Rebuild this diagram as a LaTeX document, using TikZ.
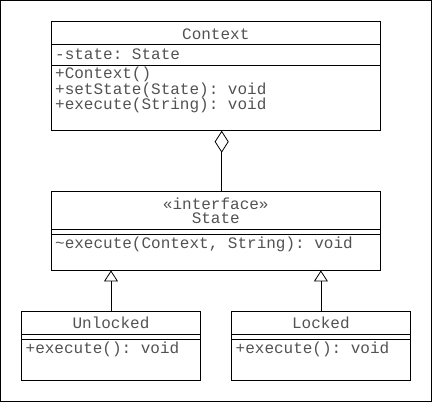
\documentclass[tikz,border=0pt]{standalone}
\usepackage{fontspec}
\setmonofont{Liberation Mono}
\usetikzlibrary{shapes,arrows.meta}
\tikzstyle{cls}=[draw, rectangle, inner sep=0pt, line width=0.8pt]
\tikzstyle{txt}=[font=\ttfamily\fontsize{16}{16}\selectfont, text=black!68, inner sep=0pt]
\tikzstyle{mem}=[txt, anchor=base west]
\tikzstyle{ttl}=[txt, anchor=base]
\tikzstyle{agg}=[line width=0.8pt, -{Diamond[open, length=22pt, width=14pt, line width=0.8pt]}]
\tikzstyle{impl}=[line width=0.8pt, -{Triangle[open, length=11pt, width=14pt, line width=0.8pt]}]

\begin{document}
\begin{tikzpicture}[x=1pt, y=-1pt]
\useasboundingbox (0,0) rectangle (432,402);
\draw[line width=1pt] (0.5,0.5) rectangle (431.5,401.5);

% Context
\node[cls, minimum width=329pt, minimum height=108.8pt] (ctx) at (215.8,75.9) {};
\draw (ctx.west |- 0,44.3) -- (ctx.east |- 0,44.3);
\draw (ctx.west |- 0,64.7) -- (ctx.east |- 0,64.7);
\draw (215.8,39.5) node [ttl] (ctxname) {Context};
\draw (55,59.3) node [mem] (ctxattr) {-state: State};
\draw (55,78.5) node [mem] (ctxop1) {+Context()};
\draw (55,94.3) node [mem] (ctxop2) {+setState(State): void};
\draw (55,109.5) node [mem] (ctxop3) {+execute(String): void};

% State
\node[cls, minimum width=329pt, minimum height=78.7pt] (state) at (215.8,230.7) {};
\draw (state.west |- 0,229.3) -- (state.east |- 0,229.3);
\draw (state.west |- 0,234) -- (state.east |- 0,234);
\draw (215.8,209) node [ttl] (stereo) {«interface»};
\draw (215.8,223.5) node [ttl] (statename) {State};
\draw (55,248.3) node [mem] (stateop) {\textasciitilde execute(Context, String): void};

% Unlocked
\node[cls, minimum width=178.6pt, minimum height=69.3pt] (unl) at (111,345.7) {};
\draw (unl.west |- 0,334.3) -- (unl.east |- 0,334.3);
\draw (unl.west |- 0,339) -- (unl.east |- 0,339);
\draw (111,328.3) node [ttl] (unlname) {Unlocked};
\draw (25.5,353.3) node [mem] (unlop) {+execute(): void};

% Locked
\node[cls, minimum width=178.3pt, minimum height=69.3pt] (lck) at (320.9,345.7) {};
\draw (lck.west |- 0,334.3) -- (lck.east |- 0,334.3);
\draw (lck.west |- 0,339) -- (lck.east |- 0,339);
\draw (320.9,328.3) node [ttl] (lckname) {Locked};
\draw (235.5,353.3) node [mem] (lckop) {+execute(): void};

% relations
\coordinate (aggbot) at (221.7,191.3);
\draw[agg] (aggbot) -- (aggbot |- ctx.south);
\draw[impl] (unl.north) -- (unl.north |- state.south);
\draw[impl] (lck.north) -- (lck.north |- state.south);

\end{tikzpicture}
\end{document}
